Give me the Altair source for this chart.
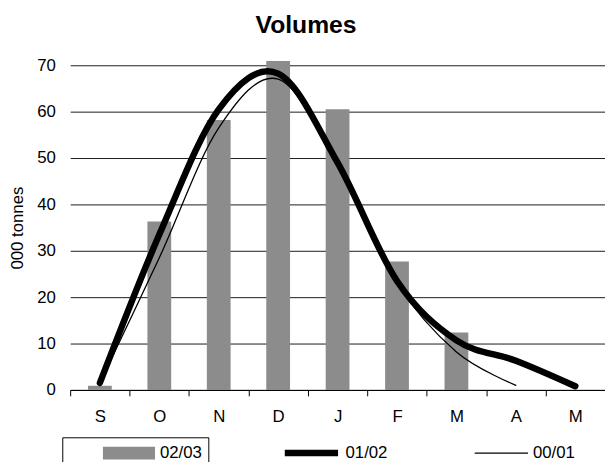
import altair as alt
import pandas as pd

months = ["S", "O", "N", "D", "J", "F", "M", "A", "M"]
bars_0203 = [0.9, 36.3, 58.2, 70.9, 60.5, 27.7, 12.4, None, None]
line_0102 = [1.5, 33.5, 60.5, 68.2, 49.0, 23.5, 10.7, 6.3, 0.8]
line_0001 = [1.5, 28.5, 56.5, 67.0, 48.5, 23.0, 8.2, 1.0, None]
y_ticks = [0, 10, 20, 30, 40, 50, 60, 70]

keys = [f"{i}|{m}" for i, m in enumerate(months)]

bar_df = pd.DataFrame({"key": keys, "value": bars_0203, "series": "02/03"}).dropna()
line_df = pd.concat([
    pd.DataFrame({"key": keys, "value": line_0102, "series": "01/02"}),
    pd.DataFrame({"key": keys, "value": line_0001, "series": "00/01"}),
]).dropna()

FONT = "Liberation Sans"
NBSP = "\u00a0"

x_enc = alt.X(
    "key:N", sort=keys,
    scale=alt.Scale(domain=keys, paddingInner=0, paddingOuter=0),
    axis=alt.Axis(title=None, labelExpr="split(datum.value, '|')[1]", tickBand="extent",
                  labelAngle=0, labelFontSize=17, labelPadding=13, tickSize=6,
                  tickColor="black", domainColor="black", labelColor="black", grid=False),
)
y_enc = alt.Y(
    "value:Q", scale=alt.Scale(domain=[0, 70], nice=False),
    axis=alt.Axis(values=y_ticks, title="000 tonnes", titleFontSize=17, titleFontWeight="normal",
                  titleColor="black", titlePadding=10, labelFontSize=17, labelColor="black",
                  labelPadding=15, ticks=False, domain=False, grid=True, gridColor="#1a1a1a",
                  gridWidth=1),
)

bars = alt.Chart(bar_df).mark_bar(width=alt.RelativeBandSize(0.4)).encode(
    x=x_enc, y=y_enc,
    color=alt.Color(
        "series:N",
        scale=alt.Scale(domain=["02/03"], range=["#8c8c8c"]),
        legend=alt.Legend(
            orient="none", legendX=-8, legendY=377, direction="horizontal",
            title=NBSP, titleOrient="left", titlePadding=35, titleFontSize=11,
            padding=6, strokeColor="black",
            symbolType="M-1,-0.245H1V0.245H-1Z", symbolSize=2809, symbolStrokeWidth=0,
            labelFontSize=17, labelFont=FONT, labelColor="black", labelOffset=5,
            labelExpr="pad(datum.label, 115, '" + NBSP + "')", labelLimit=800,
            clipHeight=20,
        ),
    ),
)

lines = alt.Chart(line_df).mark_line(color="black", interpolate="cardinal", strokeCap="round").encode(
    x=x_enc, y=y_enc,
    strokeWidth=alt.StrokeWidth(
        "series:N",
        scale=alt.Scale(domain=["01/02", "00/01"], range=[6.5, 1.3]),
        legend=alt.Legend(
            orient="none", legendX=214, legendY=383, direction="horizontal",
            title=None, padding=0, symbolType="stroke", symbolSize=2916,
            symbolStrokeColor="black", labelFontSize=17, labelFont=FONT,
            labelColor="black", labelOffset=4, columnPadding=87, clipHeight=20,
        ),
    ),
)

chart = alt.layer(bars, lines).properties(
    width=542, height=329,
    padding={"left": 63, "top": 55, "right": 0, "bottom": 70},
    autosize=alt.AutoSizeParams(type="none"),
    title=alt.TitleParams("Volumes", fontSize=25, fontWeight="bold", font=FONT, color="black",
                          frame="group", anchor="middle", dx=-32, offset=19),
).configure_view(stroke=None).configure_axis(labelFont=FONT, titleFont=FONT)

chart.save("out.html", embed_options={"renderer": "svg", "actions": False})
